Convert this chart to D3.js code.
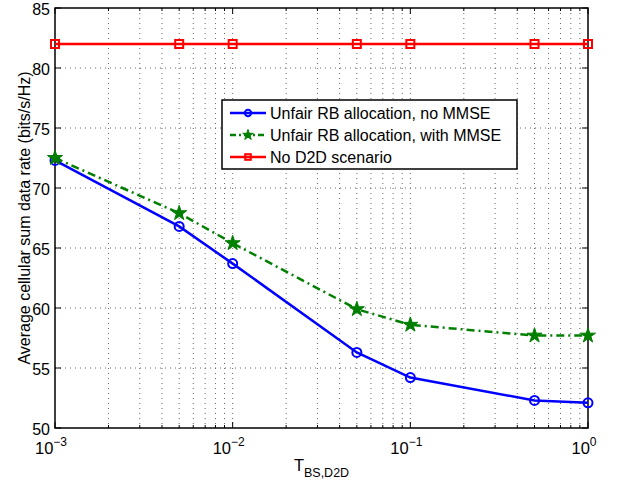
<!DOCTYPE html>
<html>
<head>
<meta charset="utf-8">
<script src="https://cdn.jsdelivr.net/npm/d3@7"></script>
<style>
body { margin: 0; background: #fff; }
svg { font-family: "Liberation Sans", Arial, sans-serif; }
.grid line { stroke: #666; stroke-width: 1; stroke-dasharray: 1,4; }
</style>
</head>
<body>
<div id="chart"></div>
<script>
let width = 620;
let height = 483;
let margin = {left: 55, top: 8, right: 32, bottom: 55};

// data
let thresholds = [0.001, 0.005, 0.01, 0.05, 0.1, 0.5, 1];
let noMmse = [72.3, 66.8, 63.7, 56.3, 54.2, 52.3, 52.1];
let withMmse = [72.5, 67.9, 65.4, 59.9, 58.6, 57.7, 57.7];
let noD2d = [82, 82, 82, 82, 82, 82, 82];
let yTicks = [50, 55, 60, 65, 70, 75, 80, 85];
let xTicks = [0.001, 0.01, 0.1, 1];
let xTickExp = ["\u22123", "\u22122", "\u22121", "0"];
let seriesNames = ["Unfair RB allocation, no MMSE", "Unfair RB allocation, with MMSE", "No D2D scenario"];

let pw = width - margin.left - margin.right;
let ph = height - margin.top - margin.bottom;

let svg = d3.select("#chart").append("svg")
	.attr("width", width)
	.attr("height", height);

let g = svg.append("g")
	.attr("transform", "translate(" + margin.left + "," + margin.top + ")");

let x = d3.scaleLog().domain([0.001, 1]).range([0, pw]);
let y = d3.scaleLinear().domain([50, 85]).range([ph, 0]);

// minor log ticks
let minorTicks = [];
[0.001, 0.01, 0.1].forEach(function(d) {
	for (let k = 2; k <= 9; k++) minorTicks.push(d * k);
});

// grid
let grid = g.append("g").attr("class", "grid");
grid.selectAll(".vx").data(minorTicks.concat(xTicks.slice(1, 3))).enter().append("line")
	.attr("x1", d => x(d)).attr("x2", d => x(d))
	.attr("y1", 0).attr("y2", ph);
grid.selectAll(".hy").data(yTicks.slice(1, -1)).enter().append("line")
	.attr("x1", 0).attr("x2", pw)
	.attr("y1", d => y(d)).attr("y2", d => y(d));

// ticks inside the box
let ticks = g.append("g").attr("stroke", "#000").attr("stroke-width", 1);
xTicks.forEach(function(d) {
	ticks.append("line").attr("x1", x(d)).attr("x2", x(d)).attr("y1", ph).attr("y2", ph - 6);
	ticks.append("line").attr("x1", x(d)).attr("x2", x(d)).attr("y1", 0).attr("y2", 6);
});
minorTicks.forEach(function(d) {
	ticks.append("line").attr("x1", x(d)).attr("x2", x(d)).attr("y1", ph).attr("y2", ph - 3);
	ticks.append("line").attr("x1", x(d)).attr("x2", x(d)).attr("y1", 0).attr("y2", 3);
});
yTicks.forEach(function(d) {
	ticks.append("line").attr("x1", 0).attr("x2", 6).attr("y1", y(d)).attr("y2", y(d));
	ticks.append("line").attr("x1", pw).attr("x2", pw - 6).attr("y1", y(d)).attr("y2", y(d));
});

// box
g.append("rect")
	.attr("width", pw).attr("height", ph)
	.attr("fill", "none").attr("stroke", "#000").attr("stroke-width", 1.5);

// tick labels
g.selectAll(".ylab").data(yTicks).enter().append("text")
	.attr("x", -5).attr("y", d => y(d) + 6.5)
	.attr("text-anchor", "end")
	.attr("font-size", 16)
	.text(d => d);

xTicks.forEach(function(d, i) {
	let t = g.append("text")
		.attr("x", x(d) - 4).attr("y", ph + 26)
		.attr("text-anchor", "middle")
		.attr("font-size", 16.5);
	t.append("tspan").text("10");
	t.append("tspan").attr("dy", -8).attr("font-size", 12).text(xTickExp[i]);
});

// axis titles
let xl = svg.append("text")
	.attr("x", margin.left + pw / 2).attr("y", 471)
	.attr("text-anchor", "middle")
	.attr("font-size", 16.5);
xl.append("tspan").text("T");
xl.append("tspan").attr("dy", 6).attr("font-size", 12.5).text("BS,D2D");

svg.append("text")
	.attr("transform", "translate(30," + (margin.top + ph / 2) + ") rotate(-90)")
	.attr("text-anchor", "middle")
	.attr("font-size", 16)
	.text("Average cellular sum data rate (bits/s/Hz)");

// series
let line = d3.line()
	.x(d => x(d[0]))
	.y(d => y(d[1]));

let series = [
	{values: noMmse, color: "#0000ff", dash: null, marker: "circle"},
	{values: withMmse, color: "#007f00", dash: "8,4,2,4", marker: "star"},
	{values: noD2d, color: "#ff0000", dash: null, marker: "square"}
];

function drawMarker(sel, type, color, k) {
	if (type === "circle") {
		sel.append("circle").attr("r", 4.5 * k)
			.attr("fill", "none").attr("stroke", color).attr("stroke-width", 2);
	} else if (type === "star") {
		sel.append("path").attr("d", d3.symbol(d3.symbolStar, 70 * k * k)())
			.attr("fill", color).attr("stroke", color).attr("stroke-width", 1);
	} else {
		sel.append("rect").attr("x", -4 * k).attr("y", -4 * k).attr("width", 8 * k).attr("height", 8 * k)
			.attr("fill", "none").attr("stroke", color).attr("stroke-width", 2);
	}
}

series.forEach(function(s) {
	let pts = d3.zip(thresholds, s.values);
	g.append("path")
		.datum(pts)
		.attr("fill", "none")
		.attr("stroke", s.color)
		.attr("stroke-width", 2.5)
		.attr("stroke-dasharray", s.dash)
		.attr("d", line);
	g.selectAll(null).data(pts).enter().append("g")
		.attr("transform", d => "translate(" + x(d[0]) + "," + y(d[1]) + ")")
		.each(function() { drawMarker(d3.select(this), s.marker, s.color, 1); });
});

// legend
let lg = svg.append("g").attr("transform", "translate(222,100)");
lg.append("rect")
	.attr("width", 295).attr("height", 69)
	.attr("fill", "#fff").attr("stroke", "#000").attr("stroke-width", 1.5);
series.forEach(function(s, i) {
	let yy = 13 + i * 22;
	lg.append("line")
		.attr("x1", 8).attr("x2", 44).attr("y1", yy).attr("y2", yy)
		.attr("stroke", s.color).attr("stroke-width", 2.5)
		.attr("stroke-dasharray", s.dash ? "6,3,2,3" : null);
	let m = lg.append("g").attr("transform", "translate(26," + yy + ")");
	drawMarker(m, s.marker, s.color, 0.7);
	lg.append("text")
		.attr("x", 48).attr("y", yy + 5.5)
		.attr("font-size", 16)
		.text(seriesNames[i]);
});
</script>
</body>
</html>
